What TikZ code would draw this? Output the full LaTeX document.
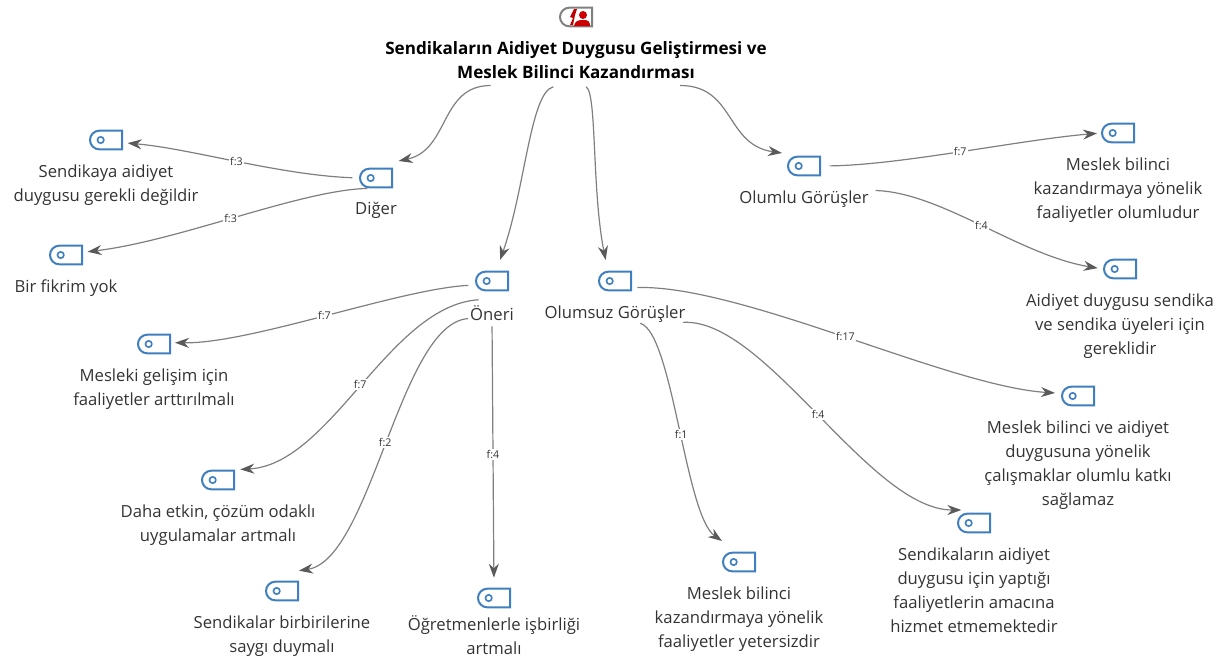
\documentclass[tikz,border=0pt]{standalone}
\usepackage{fontspec}
\setmainfont{Open Sans}
\usepackage{tikz}
\usetikzlibrary{positioning,arrows.meta,shapes.misc}
\definecolor{tagblue}{HTML}{3F7FBF}
\definecolor{linegray}{HTML}{7F7F7F}
\definecolor{headgray}{HTML}{5A5A5A}
\definecolor{inkgray}{HTML}{333333}
\tikzset{
tagbox/.style={draw=tagblue, line width=1.5pt, rounded rectangle, rounded rectangle right arc=none, % the tag shape
  minimum width=24pt, minimum height=14pt, inner sep=0pt, fill=white,
  path picture={\draw[tagblue, line width=1.2pt] ([xshift=8pt]path picture bounding box.west) circle (2.4pt);}},
tagtext/.style={align=center, text=inkgray, font=\fontsize{12.5pt}{18pt}\selectfont, inner sep=0pt, below=10.5pt of #1}, % text below a tag
link/.style={-{Stealth[length=10.5pt,width=7.5pt,color=headgray]}, draw=linegray, line width=0.9pt}, % the arrows
flabel/.style={fill=white, text=inkgray, font=\fontsize{8pt}{9pt}\selectfont, inner sep=1pt}, % f:n on a link
}
\begin{document}
\begin{tikzpicture}[x=0.75pt, y=-0.75pt]
\useasboundingbox (0,0) rectangle (1220,658);
\clip (0,0) rectangle (1220,658);
% top
\node[draw=gray, line width=1.5pt, rounded rectangle, rounded rectangle right arc=none, minimum width=24pt, minimum height=14pt, inner sep=0pt] (top) at (576,17) {};
\fill[red!75!black] (577,9) -- (574,9) -- (570,17) -- (573,18) -- (570,25) -- (573,25) -- (575,15) -- cycle;
\fill[red!80!black] (583,15) circle (4);
\fill[red!80!black] (574,26) .. controls (575,21) and (578,20) .. (583,20) .. controls (588,20) and (590,21) .. (590,26) -- cycle;
\node[align=center, text=black, font=\fontsize{12.8pt}{18pt}\selectfont\bfseries, inner sep=0pt] (ttl) at (576,60) {Sendikaların Aidiyet Duygusu Geliştirmesi ve\\Meslek Bilinci Kazandırması};
% left
\node[tagbox] (dg) at (376,178) {};
\node[tagtext=dg] (dgt) {Diğer};
\node[tagbox] (sa) at (106,140) {};
\node[tagtext=sa] (sat) {Sendikaya aidiyet\\duygusu gerekli değildir};
\node[tagbox] (bf) at (66,255) {};
\node[tagtext=bf] (bft) {Bir fikrim yok};
% right
\node[tagbox] (ol) at (804,166) {};
\node[tagtext=ol] (olt) {Olumlu Görüşler};
\node[tagbox] (mb) at (1118,133) {};
\node[tagtext=mb] (mbt) {Meslek bilinci\\kazandırmaya yönelik\\faaliyetler olumludur};
\node[tagbox] (ad) at (1120,269) {};
\node[tagtext=ad] (adt) {Aidiyet duygusu sendika\\ve sendika üyeleri için\\gereklidir};
% middle
\node[tagbox] (on) at (492,281) {};
\node[tagtext=on] (ont) {Öneri};
\node[tagbox] (os) at (615,281) {};
\node[tagtext=os] (ost) {Olumsuz Görüşler};
\node[tagbox] (mg) at (154,344) {};
\node[tagtext=mg] (mgt) {Mesleki gelişim için\\faaliyetler arttırılmalı};
\node[tagbox] (de) at (218,480) {};
\node[tagtext=de] (det) {Daha etkin, çözüm odaklı\\uygulamalar artmalı};
\node[tagbox] (sb) at (282,591) {};
\node[tagtext=sb] (sbt) {Sendikalar birbirilerine\\saygı duymalı};
\node[tagbox] (og) at (494,598) {};
\node[tagtext=og, yshift=5.5pt] (ogt) {Öğretmenlerle işbirliği\\artmalı};
\node[tagbox] (my) at (739,562) {};
\node[tagtext=my] (myt) {Meslek bilinci\\kazandırmaya yönelik\\faaliyetler yetersizdir};
\node[tagbox] (mv) at (1078,396) {};
\node[tagtext=mv] (mvt) {Meslek bilinci ve aidiyet\\duygusuna yönelik\\çalışmaklar olumlu katkı\\sağlamaz};
\node[tagbox] (sy) at (974,523) {};
\node[tagtext=sy] (syt) {Sendikaların aidiyet\\duygusu için yaptığı\\faaliyetlerin amacına\\hizmet etmemektedir};
% links
\draw[link] ([xshift=-64pt,yshift=-5pt]ttl.south) .. controls +(-51,0) and +(51,-11) .. ([xshift=17pt,yshift=5pt]dg.north);
\draw[link] ([xshift=-17pt,yshift=-6pt]ttl.south) .. controls +(-23,5) and +(25,-70) .. ([xshift=6pt,yshift=8pt]on.north);
\draw[link] ([xshift=7.5pt,yshift=-6pt]ttl.south) .. controls +(11,5) and +(-14,-70) .. ([xshift=-7pt,yshift=8pt]os.north);
\draw[link] ([xshift=78pt,yshift=-5pt]ttl.south) .. controls +(55,0) and +(-57,-8) .. ([xshift=-16.5pt,yshift=2pt]ol.north);
\draw[link, shorten <=5pt, shorten >=3.5pt] (dg.west) .. controls +(-80,-3) and +(68,6) .. node[flabel] {f:3} ([yshift=-2pt]sa.east);
\draw[link, shorten <=1.5pt, shorten >=3.5pt] (dg.south west) .. controls +(-70,2) and +(98,-12) .. node[flabel, pos=0.52] {f:3} ([yshift=2pt]bf.east);
\draw[link, shorten <=6.5pt, shorten >=3pt] (ol.east) .. controls +(80,-1) and +(-82,7) .. node[flabel] {f:7} (mb.west);
\draw[link, shorten <=5pt, shorten >=4pt] (olt.north east) .. controls +(72,2) and +(-84,-14) .. node[flabel] {f:4} (ad.west);
\draw[link, shorten <=5pt, shorten >=3pt] ([yshift=-3pt]on.west) .. controls +(-76,4) and +(80,1) .. node[flabel] {f:7} ([yshift=1pt]mg.east);
\draw[link, shorten <=5pt, shorten >=4pt] ([yshift=-6pt]on.south west) .. controls +(-96,6) and +(96,-5) .. node[flabel] {f:7} (de.north east);
\draw[link, shorten <=1.5pt] ([yshift=-4pt]ont.west) .. controls +(-70,5) and +(72,-11) .. node[flabel] {f:2} ([yshift=7.5pt]sb.north east);
\draw[link, shorten <=4pt, shorten >=7.5pt] (ont.south) -- node[flabel] {f:4} (og.north);
\draw[link, shorten <=2pt] ([xshift=17pt]ost.south) .. controls +(35,10) and +(-37,-26) .. node[flabel, pos=0.53] {f:1} ([xshift=-12.75pt,yshift=8pt]my.north);
\draw[link, shorten <=2pt] ([xshift=-4pt]ost.south east) .. controls +(85,-5) and +(-92,0) .. node[flabel] {f:4} ([xshift=-4.5pt,yshift=2pt]sy.north west);
\draw[link, shorten <=4pt, shorten >=4.5pt] ([yshift=-5pt]os.east) .. controls +(109,-3) and +(-112,-7) .. node[flabel] {f:17} ([yshift=2pt]mv.west);
\end{tikzpicture}
\end{document}
